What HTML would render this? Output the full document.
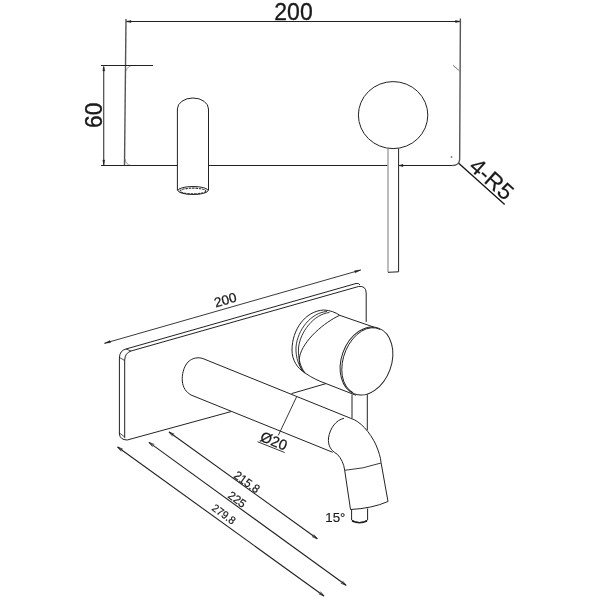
<!DOCTYPE html>
<html><head><meta charset="utf-8">
<style>
html,body{margin:0;padding:0;background:#fff;width:600px;height:600px;overflow:hidden}
svg{display:block;will-change:transform}
text{font-family:"Liberation Sans",sans-serif;fill:#1a1a1a}
</style></head><body>
<svg width="600" height="600" viewBox="0 0 600 600">
<g fill="none" stroke="#222" stroke-width="1">
<!-- ===== TOP VIEW ===== -->
<!-- dim 200 -->
<line x1="126" y1="21.5" x2="460.5" y2="21.5"/>
<path d="M126 21.5 L131 20.5 L131 22.5 Z M460.5 21.5 L455.5 20.5 L455.5 22.5 Z" fill="#222" stroke-width="0.5"/>
<!-- plate left & right -->
<line x1="126" y1="19" x2="124.5" y2="165.5" stroke="#555" stroke-width="1.4"/>
<path d="M460.4 18.5 L459.65 159.5 Q459.3 165.5 452.5 165.5" stroke="#555" stroke-width="1.4"/>
<path d="M450.5 157 h2 M451.5 156 v2" stroke="#666" stroke-width="0.7"/>
<!-- corner marks -->
<path d="M125 159 Q126 165 131 165.5" stroke="#777" stroke-width="0.8"/>
<path d="M126 71 Q127 67 131 65.5" stroke="#888" stroke-width="0.7"/>
<path d="M453 65.3 L459.5 70.8" stroke="#555" stroke-width="0.8"/>
<!-- 60 ext lines -->
<line x1="101" y1="65.5" x2="153" y2="65.5"/>
<line x1="103.75" y1="67" x2="103.75" y2="165.5"/>
<path d="M103.75 66 L102.8 71 L104.7 71 Z M103.75 165 L102.8 160 L104.7 160 Z" fill="#222" stroke-width="0.4"/>
<!-- bottom line -->
<line x1="101" y1="165.5" x2="177.5" y2="165.5"/>
<line x1="209" y1="165.5" x2="387.5" y2="165.5"/>
<line x1="398.75" y1="165.5" x2="452.5" y2="165.5"/>
<!-- spout -->
<path d="M177.4 190.5 V109 A15.55 11 0 0 1 208.5 109 V190.5"/>
<ellipse cx="193" cy="190.5" rx="15" ry="4"/>
<ellipse cx="193" cy="191" rx="12.8" ry="2.9" stroke="#333" stroke-width="1.1" stroke-dasharray="2.5 0.8"/>
<!-- knob circle + stem -->
<ellipse cx="393.1" cy="115.1" rx="34.7" ry="33.5"/>
<path d="M388 149 V272.3" stroke="#999" stroke-width="1.3"/>
<path d="M398.6 148.5 V271.8 L388 272.3"/>
<path d="M399 165.5 L403 164.3 L403 166.7 Z" fill="#222" stroke-width="0.4"/>
<!-- 4-R5 leader -->
<line x1="458.7" y1="163.3" x2="504.7" y2="204.4" stroke="#111" stroke-width="1.3"/>

<!-- ===== ISO VIEW ===== -->
<!-- dim 200 -->
<line x1="104.5" y1="343.3" x2="360.7" y2="270" stroke-width="0.9"/>
<path d="M104.5 343.3 L110 340.5 L110.6 342.6 Z M360.7 270 L355.2 272.8 L354.6 270.7 Z" fill="#222" stroke-width="0.4"/>
<!-- plate -->
<path d="M119.4 434 V358 Q119.6 350.5 126 349 L356 283.5 Q359 283 360 285"/>
<path d="M124.7 438 V360 Q125 353 131 351 L358.5 286.5 Q366 285.5 366.2 293 V322"/>
<path d="M119.4 434 Q120 439.8 127.2 440 L231 411.6"/>
<line x1="291.5" y1="393.6" x2="326" y2="383.6"/>
<path d="M119.5 357.5 L124.7 360.5 M126 349 L131 351" stroke-width="0.8"/>
<path d="M119.5 433 L124.7 437" stroke-width="0.8"/>
<!-- spout horizontal -->
<path d="M350.7 418.3 L203 358.6 C198 356.8 192 358 188 362 C183.5 367 181.8 375 182.3 381 C183 388 186 392 191 395 L332.7 452.3"/>
<!-- elbow -->
<path d="M350.7 418.3 C360 421 370 432 376 445 C379 452 380.7 458 381 462.3 L388 501.5"/>
<path d="M344 418.3 C336 420 330 428 328.5 438 C328 445 330 450 337.3 454.3 C341 458 344 464 344.7 470.3 L350.5 509.5"/>
<path d="M344.7 470.3 Q363 469 381 463" stroke-width="0.9"/>
<path d="M350.5 509.5 Q372 508.5 388 501.5" stroke-width="1"/>
<!-- aerator -->
<path d="M351.6 509.5 V520 Q359.6 525 367.6 520 V508.5"/>
<path d="M352 521 Q359.6 524.5 367 521" stroke-width="1.4"/>
<!-- lever stem -->
<line x1="352" y1="394.5" x2="352" y2="418.3"/>
<line x1="367.3" y1="394.5" x2="367.3" y2="430.3"/>
<!-- knob -->
<g transform="translate(366.5 361) rotate(20)">
  <ellipse cx="0" cy="0" rx="25" ry="35"/>
  <path d="M2 -34.3 A22.5 33.5 0 0 0 -2 34.3" stroke-width="0.9"/>
</g>
<path d="M339.7 315.3 L374 327.2"/>
<path d="M305 373 C312 378 320 381.5 326 383.6 L356 395.3"/>
<path d="M339.7 315.3 Q333 310.5 323.7 310 C305 311 292 330 292 350 C292 360 297 368 305 373"/>
<path d="M327 311.5 C311 312.5 297.5 330 296 347 C295.5 358 299 367 305 373" stroke-width="0.9"/>
<path d="M329.5 312.5 C314 314 300 332 298.5 348 C298 359 300.5 367 305 373" stroke-width="0.9"/>
<path d="M339.7 315.3 C325 322 303 340 299.5 357 C298.5 365 301 370 305 373"/>
<!-- O20 leader -->
<line x1="296.5" y1="397" x2="278.3" y2="435.4" stroke-width="0.9"/>
<line x1="257.5" y1="441.7" x2="284.6" y2="452.5" stroke-width="0.9"/>
<!-- bottom dims -->
<path d="M172.6 436.3 L169.0 432.0 L174.3 434.1 M313.7 534.4 L317.3 538.7 L312.0 536.6 M152.6 446.8 L149.0 442.4 L154.3 444.5 M342.5 580.9 L346.1 585.3 L340.8 583.2 M121.2 451.4 L117.6 447.0 L122.9 449.1 M320.4 591.6 L324.0 596.0 L318.7 593.9" stroke-width="0.8" stroke="#333"/>

<line x1="169" y1="432" x2="317.3" y2="538.7" stroke-width="1.1"/>
<line x1="149" y1="442.4" x2="346.1" y2="585.3" stroke-width="1.1"/>
<line x1="117.6" y1="447" x2="324" y2="596" stroke-width="1.1"/>
</g>
<!-- texts -->
<text x="274.3" y="19.5" font-size="23" stroke="#111" stroke-width="0.3">200</text>
<text transform="translate(101.8 115.3) rotate(-90) scale(0.93 1)" font-size="24.5" text-anchor="middle" stroke="#111" stroke-width="0.35">60</text>
<text transform="translate(467.8 168.2) rotate(41.8)" font-size="23" stroke="#111" stroke-width="0.18">4-R5</text>
<text transform="translate(215.7 307.5) rotate(-16)" font-size="13.5" stroke="#111" stroke-width="0.25">200</text>
<text transform="translate(259.3 440.6) rotate(21.8)" font-size="14.5" stroke="#111" stroke-width="0.25">Ø20</text>
<text transform="translate(233 477) rotate(36) scale(0.95 1)" font-size="12" stroke="#111" stroke-width="0.2">215.8</text>
<text transform="translate(227 497) rotate(36)" font-size="11.5" stroke="#111" stroke-width="0.2">225</text>
<text transform="translate(211 509.5) rotate(36) scale(0.95 1)" font-size="11" stroke="#111" stroke-width="0.2">279.8</text>
<text x="325.3" y="521.9" font-size="13.3" stroke="#111" stroke-width="0.15">15°</text>
</svg>
</body></html>
